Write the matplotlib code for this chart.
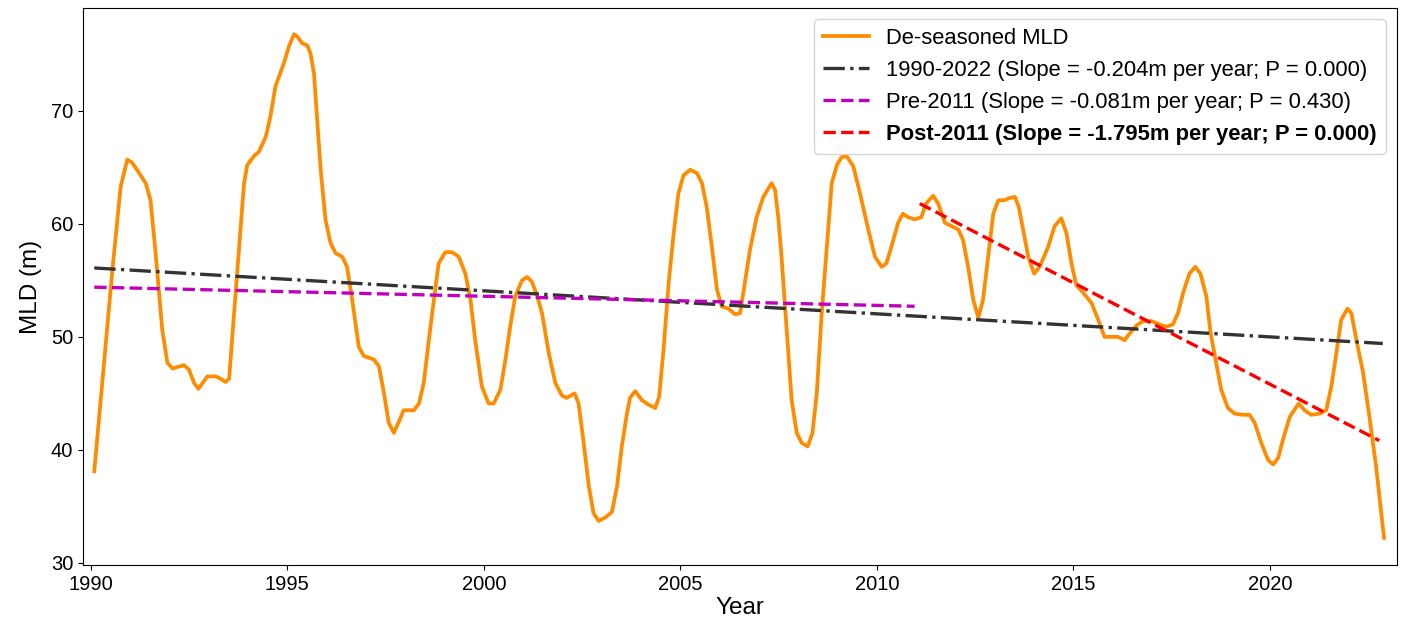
import matplotlib
matplotlib.use("Agg")
import matplotlib.pyplot as plt
import numpy as np

plt.rcParams['font.family'] = ['Liberation Sans', 'DejaVu Sans']

# De-seasoned MLD
years = [
    1990.09, 1990.55, 1990.76, 1990.93, 1991.06, 1991.40, 1991.52, 1991.65, 1991.82, 1991.95,
    1992.08, 1992.37, 1992.50, 1992.63, 1992.74, 1992.84, 1992.97, 1993.18, 1993.30, 1993.43,
    1993.52, 1993.60, 1993.73, 1993.90, 1993.98, 1994.15, 1994.28, 1994.45, 1994.57, 1994.70,
    1994.91, 1995.04, 1995.17, 1995.25, 1995.38, 1995.51, 1995.59, 1995.68, 1995.76, 1995.85,
    1995.97, 1996.10, 1996.23, 1996.40, 1996.52, 1996.65, 1996.82, 1996.95, 1997.20, 1997.33,
    1997.46, 1997.58, 1997.71, 1997.84, 1997.96, 1998.13, 1998.22, 1998.35, 1998.47, 1998.60,
    1998.73, 1998.85, 1999.02, 1999.19, 1999.36, 1999.53, 1999.66, 1999.78, 1999.95, 2000.12,
    2000.25, 2000.42, 2000.55, 2000.67, 2000.80, 2000.97, 2001.10, 2001.22, 2001.35, 2001.48,
    2001.65, 2001.82, 2001.99, 2002.11, 2002.31, 2002.41, 2002.54, 2002.67, 2002.79, 2002.92,
    2003.09, 2003.26, 2003.39, 2003.51, 2003.64, 2003.72, 2003.85, 2004.02, 2004.19, 2004.36,
    2004.46, 2004.57, 2004.70, 2004.83, 2004.95, 2005.08, 2005.25, 2005.42, 2005.55, 2005.67,
    2005.80, 2005.93, 2006.05, 2006.22, 2006.39, 2006.52, 2006.65, 2006.77, 2006.94, 2007.11,
    2007.32, 2007.41, 2007.49, 2007.58, 2007.71, 2007.83, 2007.96, 2008.09, 2008.24, 2008.36,
    2008.47, 2008.59, 2008.72, 2008.85, 2008.98, 2009.10, 2009.23, 2009.40, 2009.57, 2009.78,
    2009.95, 2010.12, 2010.24, 2010.37, 2010.54, 2010.66, 2010.79, 2010.96, 2011.13, 2011.25,
    2011.43, 2011.56, 2011.73, 2011.90, 2012.07, 2012.19, 2012.32, 2012.45, 2012.58, 2012.70,
    2012.83, 2012.96, 2013.09, 2013.25, 2013.38, 2013.51, 2013.61, 2013.72, 2013.85, 2014.00,
    2014.14, 2014.36, 2014.52, 2014.69, 2014.82, 2014.95, 2015.07, 2015.25, 2015.46, 2015.63,
    2015.79, 2015.96, 2016.14, 2016.30, 2016.43, 2016.60, 2016.77, 2016.98, 2017.19, 2017.36,
    2017.53, 2017.66, 2017.79, 2017.95, 2018.10, 2018.23, 2018.38, 2018.49, 2018.63, 2018.76,
    2018.93, 2019.10, 2019.31, 2019.48, 2019.61, 2019.78, 2019.95, 2020.08, 2020.21, 2020.33,
    2020.50, 2020.73, 2020.88, 2021.05, 2021.26, 2021.43, 2021.56, 2021.69, 2021.81, 2021.97,
    2022.07, 2022.20, 2022.37, 2022.53, 2022.70, 2022.90,
]
mld = [
    38.1, 55.9, 63.3, 65.7, 65.4, 63.6, 62.1, 57.4, 50.6, 47.7,
    47.2, 47.5, 47.1, 45.9, 45.4, 45.9, 46.5, 46.5, 46.3, 46.0,
    46.3, 50.0, 55.9, 63.6, 65.2, 66.0, 66.4, 67.7, 69.5, 72.2,
    74.2, 75.7, 76.8, 76.6, 76.0, 75.8, 75.1, 73.3, 69.2, 64.8,
    60.4, 58.3, 57.4, 57.1, 56.2, 53.3, 49.1, 48.3, 48.0, 47.4,
    45.0, 42.4, 41.5, 42.5, 43.5, 43.5, 43.5, 44.1, 45.9, 49.7,
    53.3, 56.5, 57.5, 57.5, 57.1, 55.6, 53.3, 49.7, 45.6, 44.1,
    44.1, 45.3, 48.0, 50.9, 53.6, 55.0, 55.3, 54.9, 53.7, 52.1,
    48.6, 45.9, 44.8, 44.6, 45.0, 44.1, 40.6, 36.8, 34.4, 33.7,
    34.0, 34.5, 36.8, 40.3, 43.2, 44.6, 45.2, 44.4, 44.0, 43.7,
    44.7, 48.8, 54.7, 59.2, 62.7, 64.3, 64.8, 64.5, 63.6, 61.5,
    58.0, 54.2, 52.7, 52.5, 52.0, 52.1, 55.0, 57.7, 60.6, 62.4,
    63.6, 63.0, 60.6, 56.8, 50.3, 44.4, 41.5, 40.6, 40.3, 41.5,
    45.0, 51.8, 57.7, 63.6, 65.2, 65.9, 66.0, 65.1, 62.7, 59.5,
    57.1, 56.2, 56.5, 58.0, 60.1, 60.9, 60.6, 60.4, 60.6, 61.8,
    62.5, 61.8, 60.1, 59.8, 59.5, 58.6, 56.2, 53.3, 51.7, 53.3,
    57.1, 60.9, 62.1, 62.1, 62.3, 62.4, 61.5, 59.5, 57.1, 55.6,
    56.2, 58.0, 59.8, 60.5, 59.2, 56.5, 54.6, 53.9, 53.0, 51.5,
    50.0, 50.0, 50.0, 49.7, 50.3, 51.0, 51.4, 51.4, 51.1, 50.9,
    51.1, 52.1, 53.9, 55.6, 56.2, 55.6, 53.6, 50.3, 47.7, 45.3,
    43.7, 43.2, 43.1, 43.1, 42.4, 40.6, 39.1, 38.7, 39.3, 40.9,
    42.9, 44.1, 43.5, 43.1, 43.2, 43.5, 45.6, 48.6, 51.5, 52.5,
    52.1, 49.7, 46.8, 42.9, 38.5, 32.2,
]

# Trend lines: (start year, end year, value at start, slope per year)
trend_all = (1990.09, 2022.87, 56.1, -0.204)
trend_pre = (1990.09, 2010.96, 54.4, -0.081)
trend_post = (2011.09, 2022.78, 61.8, -1.795)

labels = [
    "De-seasoned MLD",
    "1990-2022 (Slope = -0.204m per year; P = 0.000)",
    "Pre-2011 (Slope = -0.081m per year; P = 0.430)",
    "Post-2011 (Slope = -1.795m per year; P = 0.000)",
]
xticks = [1990, 1995, 2000, 2005, 2010, 2015, 2020]
yticks = [30, 40, 50, 60, 70]


def trend_xy(t):
    x0, x1, y0, s = t
    xs = np.array([x0, x1])
    return xs, y0 + s * (xs - x0)


fig = plt.figure(figsize=(14.05, 6.32), dpi=100)
ax = fig.add_axes([0.059, 0.106, 0.935, 0.881])

ax.plot(years, mld, color='darkorange', lw=2.7, label=labels[0])
x, y = trend_xy(trend_all)
ax.plot(x, y, color='#333333', lw=2.4, ls='-.', label=labels[1])
x, y = trend_xy(trend_pre)
ax.plot(x, y, color='m', lw=2.4, ls='--', label=labels[2])
x, y = trend_xy(trend_post)
ax.plot(x, y, color='red', lw=2.4, ls='--', label=labels[3])

ax.set_xlim(1989.8, 2023.22)
ax.set_ylim(29.8, 79.1)
ax.set_xticks(xticks)
ax.set_yticks(yticks)
ax.tick_params(labelsize=14.5)
ax.set_xlabel("Year", fontsize=17.5, labelpad=2)
ax.set_ylabel("MLD (m)", fontsize=17.5, labelpad=6)

leg = ax.legend(loc='upper right', fontsize=15.8, handlelength=2.1)
leg.get_texts()[3].set_fontweight('bold')

fig.savefig("out.png", dpi=100)
